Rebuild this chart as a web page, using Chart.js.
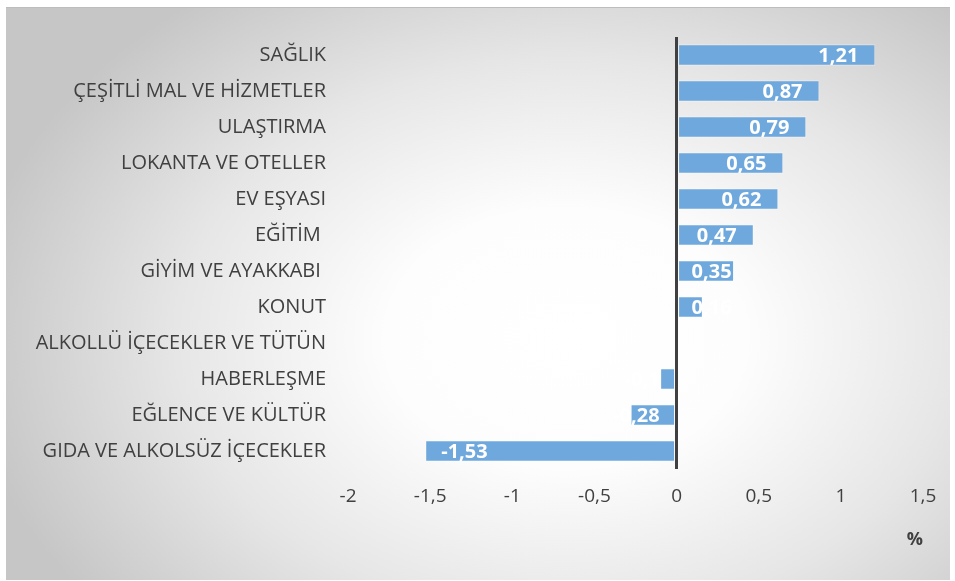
<!DOCTYPE html>
<html>
<head>
<meta charset="utf-8">
<script src="https://cdn.jsdelivr.net/npm/chart.js@4/dist/chart.umd.min.js"></script>
<style>
  html, body { margin: 0; padding: 0; background: #fff; }
  #wrap {
    position: absolute; left: 0; top: 0; width: 955px; height: 581px;
  }
  #card {
    position: absolute; left: 6px; top: 7px; width: 944px; height: 572px;
    border-top: 1px solid #bdbdbd;
    background: radial-gradient(ellipse 600px 430px at 560px 330px, #ffffff 0%, #fdfdfd 30%, #e6e6e6 65%, #c6c6c6 100%);
  }
  canvas { position: absolute; left: 0; top: 0; }
</style>
</head>
<body>
<div id="wrap">
  <div id="card"></div>
  <canvas id="chart" width="955" height="581"></canvas>
</div>
<script>
/* categories and values (% change) */
const CATEGORIES = [
  'SAĞLIK',
  'ÇEŞİTLİ MAL VE HİZMETLER',
  'ULAŞTIRMA',
  'LOKANTA VE OTELLER',
  'EV EŞYASI',
  'EĞİTİM ',
  'GİYİM VE AYAKKABI ',
  'KONUT',
  'ALKOLLÜ İÇECEKLER VE TÜTÜN',
  'HABERLEŞME',
  'EĞLENCE VE KÜLTÜR',
  'GIDA VE ALKOLSÜZ İÇECEKLER'
];
const VALUES = [1.21, 0.87, 0.79, 0.65, 0.62, 0.47, 0.35, 0.16, 0, -0.10, -0.28, -1.53];

const X_MIN = -2;
const X_MAX = 1.5;
const X_STEP = 0.5;

const FONT = "'Open Sans', 'DejaVu Sans', sans-serif";
const TEXT = '#404040';
const BAR = '#6fa8dc';

const fmt = v => String(Math.round(v * 100) / 100).replace('.', ',');

/* white value labels, inside end (clamped against the base for short bars) */
const valueLabels = {
  id: 'valueLabels',
  afterDatasetsDraw(chart) {
    const ctx = chart.ctx;
    const meta = chart.getDatasetMeta(0);
    const base = chart.scales.x.getPixelForValue(0);
    ctx.save();
    ctx.font = "bold 20px " + FONT;
    ctx.fillStyle = '#ffffff';
    ctx.textBaseline = 'middle';
    meta.data.forEach((bar, i) => {
      const v = VALUES[i];
      if (!v) return;
      const txt = fmt(v);
      const w = ctx.measureText(txt).width;
      let left;
      if (v > 0) {
        const right = Math.max(bar.x - 17, base + 15 + w);
        left = right - w;
      } else {
        left = Math.min(bar.x + 16, base - 17 - w);
      }
      ctx.textAlign = 'left';
      ctx.fillText(txt, left, bar.y + 1);
    });
    ctx.restore();
  }
};

new Chart(document.getElementById('chart'), {
  type: 'bar',
  data: {
    labels: CATEGORIES,
    datasets: [{
      data: VALUES,
      backgroundColor: BAR,
      borderColor: 'rgba(255,255,255,0.35)',
      borderWidth: 1,
      borderSkipped: false,
      categoryPercentage: 1,
      barPercentage: 0.6,
    }],
  },
  options: {
    responsive: false,
    animation: false,
    indexAxis: 'y',
    layout: { padding: { top: 37, right: 32, bottom: 0, left: 0 } },
    plugins: {
      legend: { display: false },
      tooltip: { enabled: false },
    },
    scales: {
      x: {
        min: X_MIN,
        max: X_MAX,
        ticks: {
          stepSize: X_STEP,
          color: TEXT,
          font: { family: FONT, size: 19 },
          padding: 16,
          callback: v => fmt(v),
        },
        border: { display: false },
        grid: {
          drawTicks: false,
          color: c => (c.tick && c.tick.value === 0) ? '#404040' : 'rgba(0,0,0,0)',
          lineWidth: c => (c.tick && c.tick.value === 0) ? 3 : 0,
        },
        title: {
          display: true,
          text: '%',
          align: 'end',
          color: TEXT,
          font: { family: FONT, size: 18, weight: 'bold' },
          padding: { top: 10, bottom: 30 },
        },
        afterFit: s => { s.height = 112; },
      },
      y: {
        ticks: {
          color: TEXT,
          font: { family: FONT, size: 20 },
          padding: 22,
          autoSkip: false,
        },
        border: { display: false },
        grid: { display: false, drawTicks: false },
        afterFit: s => { s.width = 348; },
      },
    },
  },
  plugins: [valueLabels],
});
</script>
</body>
</html>
